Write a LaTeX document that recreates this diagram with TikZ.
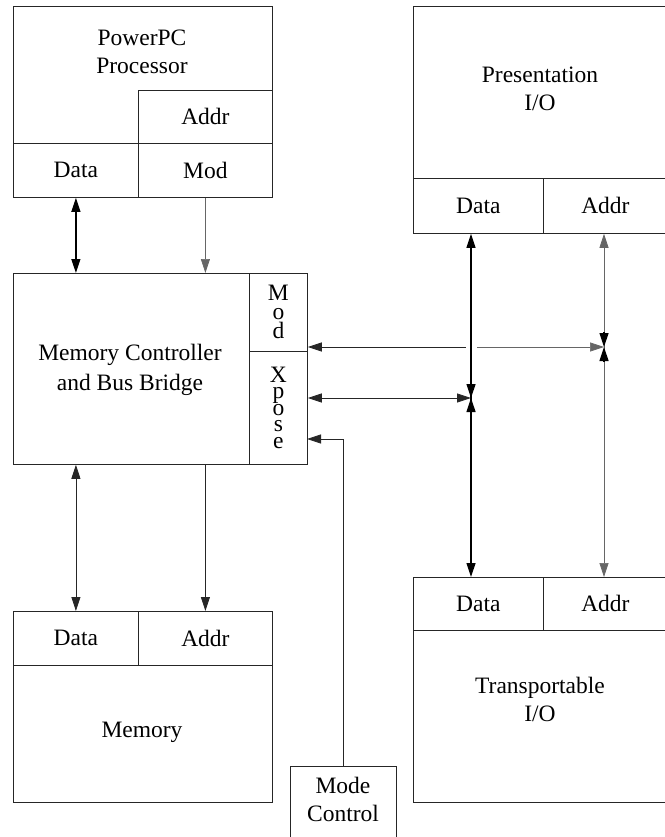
\documentclass[tikz,border=0pt]{standalone}
\usepackage{xcolor}
\usepackage{fontspec}
\setmainfont{Liberation Serif}
\usepackage{tikz}
\usetikzlibrary{shapes, arrows.meta, positioning}
\usetikzlibrary{calc}

\begin{document}
\begin{tikzpicture}
  [
    x=1pt, y=-1pt,
    font=\fontsize{23.5}{28}\selectfont,
    Box/.style={rectangle, draw=black!85, line width=0.8pt, inner sep=0pt, anchor=north west, align=center},
    Label/.style={align=center, inner sep=0pt},
    Stack/.style={font=\fontsize{23.5}{19}\selectfont},
    Thick/.style={draw, black, line width=1.2pt},
    Thin/.style={draw, black!60, line width=0.7pt},
    Mid/.style={draw, black!85, line width=0.8pt},
    >={Triangle[length=14pt, width=9pt]}
  ]
  \useasboundingbox (0,0) rectangle (664,837);

  % Nodes
  \node[Box, minimum width=259pt, minimum height=191pt] (ppc) at (13, 6) {};
  \node[Box, minimum width=134pt, minimum height=53pt] (ppcAddr) at (138, 90) {Addr};
  \node[Box, minimum width=125pt, minimum height=54pt] (ppcData) at (13, 143) {Data};
  \node[Box, minimum width=134pt, minimum height=54pt] (ppcMod) at (138, 143) {Mod};
  \node[Label] (ppcName) at (142, 52) {PowerPC\\Processor};

  \node[Box, minimum width=294pt, minimum height=191pt] (mc) at (13, 273) {};
  \node[Box, Stack, minimum width=58pt, minimum height=78pt] (mcMod) at (249, 273) {M\\o\\d};
  \node[Box, Stack, minimum width=58pt, minimum height=113pt, font=\fontsize{23.5}{16.5}\selectfont] (mcXpose) at (249, 351) {X\\p\\o\\s\\e};
  \node[Label] (mcName) at (130, 370) {Memory Controller\\[2pt]and Bus Bridge};

  \node[Box, minimum width=259pt, minimum height=191pt] (mem) at (13, 611) {};
  \node[Box, minimum width=125pt, minimum height=54pt] (memData) at (13, 611) {Data};
  \node[Box, minimum width=134pt, minimum height=54pt] (memAddr) at (138, 611) {Addr};
  \node[Label] (memName) at (142, 732) {Memory};

  \node[Box, minimum width=106pt, minimum height=90pt] (mode) at (290, 766) {};
  \node[Label] (modeName) at (343, 799) {Mode\\Control};

  \node[Box, minimum width=254pt, minimum height=227pt] (pres) at (413, 6) {};
  \node[Box, minimum width=130pt, minimum height=55pt] (presData) at (413, 178) {Data};
  \node[Box, minimum width=124pt, minimum height=55pt] (presAddr) at (543, 178) {Addr};
  \node[Label] (presName) at (540, 89) {Presentation\\I/O};

  \node[Box, minimum width=254pt, minimum height=225pt] (trans) at (413, 577) {};
  \node[Box, minimum width=130pt, minimum height=53pt] (transData) at (413, 577) {Data};
  \node[Box, minimum width=124pt, minimum height=53pt] (transAddr) at (543, 577) {Addr};
  \node[Label] (transName) at (540, 699) {Transportable\\I/O};

  % Junctions
  \coordinate (jData) at (471, 398);
  \coordinate (jAddr) at (604, 347);
  \coordinate (hopL) at (466, 347);
  \coordinate (hopR) at (477, 347);
  \coordinate (mcIn) at (307, 439);

  % Lines
  \path [<->, Thick] (ppcData.south) -- (ppcData.south |- mc.north);
  \path [->, Thin] (ppcMod.south) -- (ppcMod.south |- mc.north);
  \path [<->, Mid] (memData.north |- mc.south) -- (memData.north);
  \path [->, Mid] (memAddr.north |- mc.south) -- (memAddr.north);

  \path [<->, Thick] (jData |- presData.south) -- (jData |- transData.north);
  \path [<->, Thin] (jAddr |- presAddr.south) -- (jAddr |- transAddr.north);

  \path [<->, Mid] (mcXpose.east |- jData) -- (jData);
  \path [->, Thick] ($(jData)+(0,-15)$) -- (jData);
  \path [->, Thick] ($(jData)+(0,15)$) -- (jData);

  \path [<-, Mid] (mcMod.east |- jAddr) -- (hopL);
  \path [->, Thin] (hopR) -- (jAddr);
  \path [->, Thick] ($(jAddr)+(0,-15)$) -- (jAddr);
  \path [->, Thick] ($(jAddr)+(0,15)$) -- (jAddr);

  \path [->, Mid] (mode.north) |- (mcIn);

\end{tikzpicture}
\end{document}
